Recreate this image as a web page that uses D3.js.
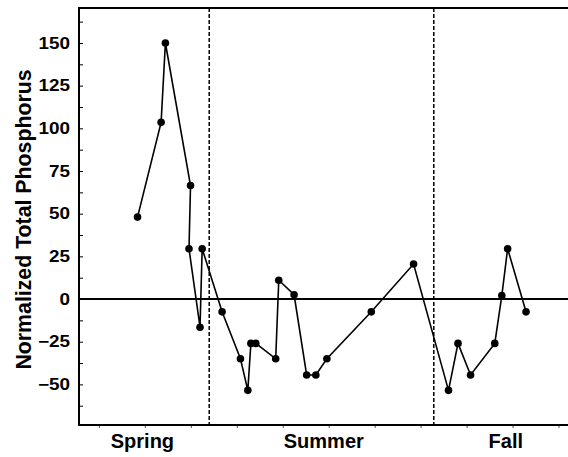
<!DOCTYPE html>
<html>
<head>
<meta charset="utf-8">
<script src="https://cdn.jsdelivr.net/npm/d3@7"></script>
<style>
  html, body { margin: 0; padding: 0; background: #fff; }
  svg { display: block; font-family: "Liberation Sans", Arial, Helvetica, sans-serif; font-weight: bold; }
</style>
</head>
<body>
<svg id="chart" width="568" height="457"></svg>
<script>
// Sampling day (days from start of the season record) and normalized total phosphorus
const sampleDay = [12.6, 20.3, 21.7, 29.9, 29.4, 33.0, 33.7, 40.2, 46.2, 48.6, 49.6, 51.2, 57.7, 58.7,
                   63.7, 67.8, 70.8, 74.4, 88.9, 102.7, 114.1, 117.2, 121.3, 129.2, 131.5, 133.4, 139.4];
const phosphorus = [48, 103.5, 150, 66.5, 29.5, -16.5, 29.5, -7.5, -35, -53.5, -26, -26, -35, 11,
                    2.5, -44.5, -44.5, -35, -7.5, 20.5, -53.5, -26, -44.5, -26, 2, 29.5, -7.5];

// Seasons, their boundaries and label anchors (in days)
const seasons = ["Spring", "Summer", "Fall"];
const seasonLabelDay = [14.2, 73.4, 132.8];
const seasonBreaks = [36.0, 109.3];

// Axis ticks
const yTickValues = [-50, -25, 0, 25, 50, 75, 100, 125, 150];
const yMinorTicks = [-62.5, -37.5, -12.5, 12.5, 37.5, 62.5, 87.5, 112.5, 137.5, 162.5];
const xTickDays = [0, 15, 30, 45, 60, 75, 90, 105, 120, 135, 150];

const svg = d3.select("#chart");
const plotLeft = 79, plotTop = 8, plotBottom = 425, plotRight = 568;
const labelStretch = 1.18; // tick labels are drawn slightly wide

const x = d3.scaleLinear().domain([-6.5, 153.1]).range([plotLeft, plotRight]);
const y = d3.scaleLinear().domain([-73.8, 170.5]).range([plotBottom, plotTop]);

// Minor y ticks (inward)
svg.append("g")
  .attr("transform", `translate(${plotLeft},0)`)
  .call(d3.axisLeft(y).tickValues(yMinorTicks).tickSize(-4).tickFormat(""))
  .call(g => g.select(".domain").remove())
  .call(g => g.selectAll("line").attr("stroke", "#000").attr("stroke-width", 1));

// Major y ticks with labels
svg.append("g")
  .attr("transform", `translate(${plotLeft},0)`)
  .call(d3.axisLeft(y).tickValues(yTickValues).tickSize(-4).tickPadding(9).tickFormat(d3.format("d")))
  .call(g => g.select(".domain").remove())
  .call(g => g.selectAll("line").attr("stroke", "#000").attr("stroke-width", 1))
  .call(g => g.selectAll("text")
    .attr("fill", "#000")
    .attr("x", -9 / labelStretch)
    .attr("transform", `scale(${labelStretch},1)`)
    .style("font-family", "'Liberation Sans', Arial, sans-serif")
    .style("font-weight", "bold")
    .style("font-size", "16px"));

// Small x ticks below the frame
svg.append("g")
  .attr("transform", `translate(0,${plotBottom})`)
  .call(d3.axisBottom(x).tickValues(xTickDays).tickSize(3).tickFormat(""))
  .call(g => g.select(".domain").remove())
  .call(g => g.selectAll("line").attr("stroke", "#555").attr("stroke-width", 1));

// Frame: left, top and bottom lines
svg.append("path")
  .attr("d", `M${plotRight},${plotTop}H${plotLeft}V${plotBottom}H${plotRight}`)
  .attr("fill", "none")
  .attr("stroke", "#000")
  .attr("stroke-width", 2);

// Season boundaries
svg.selectAll("line.season")
  .data(seasonBreaks)
  .join("line")
  .attr("class", "season")
  .attr("x1", d => x(d)).attr("x2", d => x(d))
  .attr("y1", plotTop).attr("y2", plotBottom)
  .attr("stroke", "#000")
  .attr("stroke-width", 1.5)
  .attr("stroke-dasharray", "4,2");

// Zero reference line
svg.append("line")
  .attr("x1", plotLeft).attr("x2", plotRight)
  .attr("y1", y(0)).attr("y2", y(0))
  .attr("stroke", "#000")
  .attr("stroke-width", 2);

// Series line and markers
const pts = sampleDay.map((d, i) => [d, phosphorus[i]]);
svg.append("path")
  .datum(pts)
  .attr("fill", "none")
  .attr("stroke", "#000")
  .attr("stroke-width", 1.6)
  .attr("d", d3.line().x(d => x(d[0])).y(d => y(d[1])));

svg.selectAll("circle.pt")
  .data(pts)
  .join("circle")
  .attr("class", "pt")
  .attr("cx", d => x(d[0]))
  .attr("cy", d => y(d[1]))
  .attr("r", 3.8)
  .attr("fill", "#000");

// Season labels
svg.selectAll("text.season")
  .data(seasons)
  .join("text")
  .attr("class", "season")
  .attr("x", (d, i) => x(seasonLabelDay[i]))
  .attr("y", 448)
  .attr("text-anchor", "middle")
  .style("font-size", "20px")
  .text(d => d);

// Y axis title
svg.append("text")
  .attr("transform", `translate(31,${(plotTop + plotBottom) / 2 + 3}) rotate(-90)`)
  .attr("text-anchor", "middle")
  .style("font-size", "21.3px")
  .text("Normalized Total Phosphorus");
</script>
</body>
</html>
